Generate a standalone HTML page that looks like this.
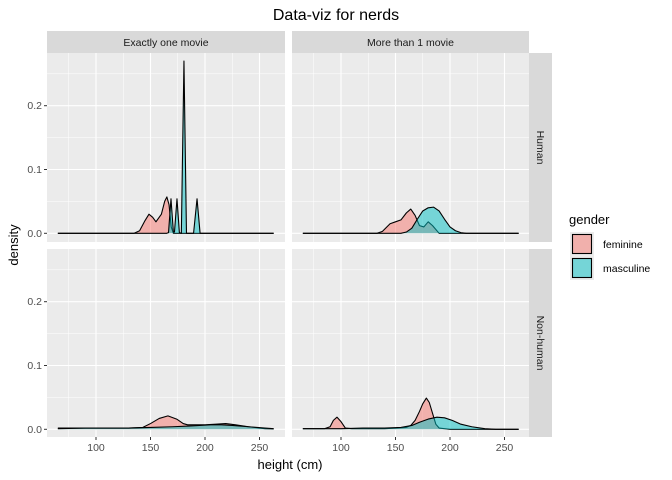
<!DOCTYPE html>
<html><head><meta charset="utf-8"><style>
body{margin:0;background:#fff;}
svg{display:block;font-family:"Liberation Sans",Arial,sans-serif;}
</style></head><body>
<svg id="chart" width="672" height="480" viewBox="0 0 672 480"></svg>
<script>
// ---- data ----
const colLabels = ["Exactly one movie", "More than 1 movie"];
const rowLabels = ["Human", "Non-human"];
const xTicks = [100, 150, 200, 250];
const yTicks = [0.0, 0.1, 0.2];
const yTickLabels = ["0.0", "0.1", "0.2"];
const genders = ["feminine", "masculine"];
// panel top-left (Human, Exactly one)
const femTLx = [65,135,140,145,148.6,152,155,160,163,165,167,169,171,173,263];
const femTLy = [0,0,0.004,0.02,0.030,0.025,0.018,0.03,0.05,0.057,0.045,0.01,0,0,0];
const mascTLx = [65,165,166.5,168.8,171,172,174.3,176.5,178.3,180.7,183,189.5,192.7,195.5,263];
const mascTLy = [0,0,0.001,0.054,0.002,0.002,0.054,0.001,0,0.27,0,0,0.054,0,0];
// panel top-right (Human, More than 1)
const femTRx = [65,133,138,145,150,155,160,164,168,172,176,180,184,190,263];
const femTRy = [0,0,0.003,0.015,0.018,0.021,0.032,0.038,0.028,0.012,0.01,0.018,0.012,0,0];
const mascTRx = [65,155,160,165,170,175,180,185,190,195,200,205,210,215,263];
const mascTRy = [0,0,0.002,0.008,0.022,0.035,0.040,0.041,0.035,0.022,0.01,0.004,0.001,0,0];
// panel bottom-left (Non-human, Exactly one)
const femBLx = [65,100,130,143,150,158,166,174,180,184,190,200,210,219,228,240,255,263];
const femBLy = [0.002,0.002,0.002,0.003,0.009,0.017,0.021,0.016,0.009,0.007,0.007,0.007,0.008,0.009,0.007,0.004,0.001,0.0005];
const mascBLx = [65,90,110,130,150,170,185,195,205,215,225,240,255,263];
const mascBLy = [0.001,0.002,0.002,0.002,0.003,0.004,0.005,0.006,0.007,0.007,0.006,0.004,0.002,0.001];
// panel bottom-right (Non-human, More than 1)
const femBRx = [65,85,90,93,96.3,100,104,110,140,160,164,168,172,175,178.3,181,184,187,190,200,263];
const femBRy = [0.001,0.001,0.004,0.014,0.019,0.012,0.002,0.001,0.001,0.003,0.006,0.014,0.028,0.040,0.049,0.042,0.025,0.008,0.002,0,0];
const mascBRx = [65,100,120,140,155,165,172,180,188,195,202,210,220,232,242,263];
const mascBRy = [0.001,0.001,0.002,0.002,0.003,0.006,0.011,0.016,0.019,0.018,0.014,0.008,0.004,0.001,0,0];

const panelData = [
  [[femTLx,femTLy,mascTLx,mascTLy],[femTRx,femTRy,mascTRx,mascTRy]],
  [[femBLx,femBLy,mascBLx,mascBLy],[femBRx,femBRy,mascBRx,mascBRy]]
];

// ---- layout ----
const NS="http://www.w3.org/2000/svg";
const svg=document.getElementById("chart");
function mk(tag,attrs,parent){const e=document.createElementNS(NS,tag);for(const k in attrs)e.setAttribute(k,attrs[k]);(parent||svg).appendChild(e);return e;}
const colX=[[47,285],[292,529]];
const rowY=[[53,242],[249,437]];
const xMin=58.3, xMax=272.9; // domain covering panel widths
function xScale(v,c){const [a,b]=colX[c];const x100=a+49,k=54.5/50;return x100+(v-100)*k;}
function yScale(v,r){const base=rowY[r][0]+180.3;return base-v*638;}
const fills=["#F8766D","#00BFC4"];

const t=mk("text",{x:336,y:20,"text-anchor":"middle","font-size":"16","fill":"#000"});
t.textContent="Data-viz for nerds";



for(let c=0;c<2;c++){
  const s=mk("rect",{x:colX[c][0],y:31,width:colX[c][1]-colX[c][0],height:22,fill:"#D9D9D9"});
  
  
  const st=mk("text",{x:(colX[c][0]+colX[c][1])/2,y:46,"text-anchor":"middle","font-size":"10.5",fill:"#1a1a1a"});
  st.textContent=colLabels[c];
  
  
}
for(let r=0;r<2;r++){
  const s=mk("rect",{x:529,y:rowY[r][0],width:23,height:rowY[r][1]-rowY[r][0],fill:"#D9D9D9"});
  
  
  const cy=(rowY[r][0]+rowY[r][1])/2;
  const st=mk("text",{x:537,y:cy,"text-anchor":"middle","font-size":"10.5",fill:"#1a1a1a",transform:`rotate(90 537 ${cy})`});
  st.textContent=rowLabels[r];
  
  
}

for(let r=0;r<2;r++){for(let c=0;c<2;c++){
  const [x0,x1]=colX[c],[y0,y1]=rowY[r];
  const g=mk("g",{});
  
  
  mk("rect",{x:x0,y:y0,width:x1-x0,height:y1-y0,fill:"#EBEBEB"},g);
  // minor grid
  for(let i=0;i<=xTicks.length;i++){const v=xTicks[0]-25+i*50;const x=xScale(v,c);if(x>x0&&x<x1)mk("line",{x1:x,x2:x,y1:y0,y2:y1,stroke:"#fff","stroke-width":0.5},g);}
  for(let i=0;i<yTicks.length;i++){const y=yScale(yTicks[i]+0.05,r);if(y>y0&&y<y1)mk("line",{x1:x0,x2:x1,y1:y,y2:y,stroke:"#fff","stroke-width":0.5},g);}
  xTicks.forEach(v=>{const x=xScale(v,c);mk("line",{x1:x,x2:x,y1:y0,y2:y1,stroke:"#fff","stroke-width":1.1},g);});
  yTicks.forEach(v=>{const y=yScale(v,r);mk("line",{x1:x0,x2:x1,y1:y,y2:y,stroke:"#fff","stroke-width":1.1},g);});
  const d=panelData[r][c];
  for(let s=0;s<2;s++){
    const xs=d[s*2],ys=d[s*2+1];
    let p=`M${xScale(xs[0],c)},${yScale(0,r)}`;
    xs.forEach((v,i)=>{p+=` L${xScale(v,c).toFixed(2)},${yScale(ys[i],r).toFixed(2)}`;});
    p+=` L${xScale(xs[xs.length-1],c)},${yScale(0,r)} Z`;
    const a=mk("path",{d:p,fill:fills[s],"fill-opacity":0.5,stroke:"none"},g);
    
    
    let l="";xs.forEach((v,i)=>{l+=(i?" L":"M")+xScale(v,c).toFixed(2)+","+yScale(ys[i],r).toFixed(2);});
    const ln=mk("path",{d:l,fill:"none",stroke:"#000","stroke-width":1.1,"stroke-linejoin":"round"},g);
    
    
  }
}}

// y axis ticks
for(let r=0;r<2;r++){yTicks.forEach((v,i)=>{const y=yScale(v,r);
  mk("line",{x1:44,x2:47,y1:y,y2:y,stroke:"#333","stroke-width":1});
  const tl=mk("text",{x:42,y:y+3.5,"text-anchor":"end","font-size":"10.5",fill:"#4d4d4d"});
  tl.textContent=yTickLabels[i];
  
  
});}
for(let c=0;c<2;c++){xTicks.forEach(v=>{const x=xScale(v,c);
  mk("line",{x1:x,x2:x,y1:437,y2:440,stroke:"#333","stroke-width":1});
  const tl=mk("text",{x:x,y:451,"text-anchor":"middle","font-size":"10.5",fill:"#4d4d4d"});
  tl.textContent=v;
  
  
});}
const xt=mk("text",{x:290,y:469,"text-anchor":"middle","font-size":"13",fill:"#000"});
xt.textContent="height (cm)";


const yt=mk("text",{x:18,y:245,"text-anchor":"middle","font-size":"13",fill:"#000",transform:"rotate(-90 18 245)"});
yt.textContent="density";



// legend
const lt=mk("text",{x:569,y:224,"font-size":"13",fill:"#000"});
lt.textContent="gender";


genders.forEach((gname,i)=>{
  const y=232+i*24;
  const lg=mk("g",{});
  
  
  mk("rect",{x:570,y:y,width:24,height:24,fill:"#EBEBEB"},lg);
  mk("rect",{x:572.5,y:y+2.5,width:19,height:19,fill:fills[i],"fill-opacity":0.5,stroke:"#000","stroke-width":1.1},lg);
  const tx=mk("text",{x:603,y:y+16,"font-size":"10.5",fill:"#000"},lg);
  tx.textContent=gname;
});
</script>
</body></html>
